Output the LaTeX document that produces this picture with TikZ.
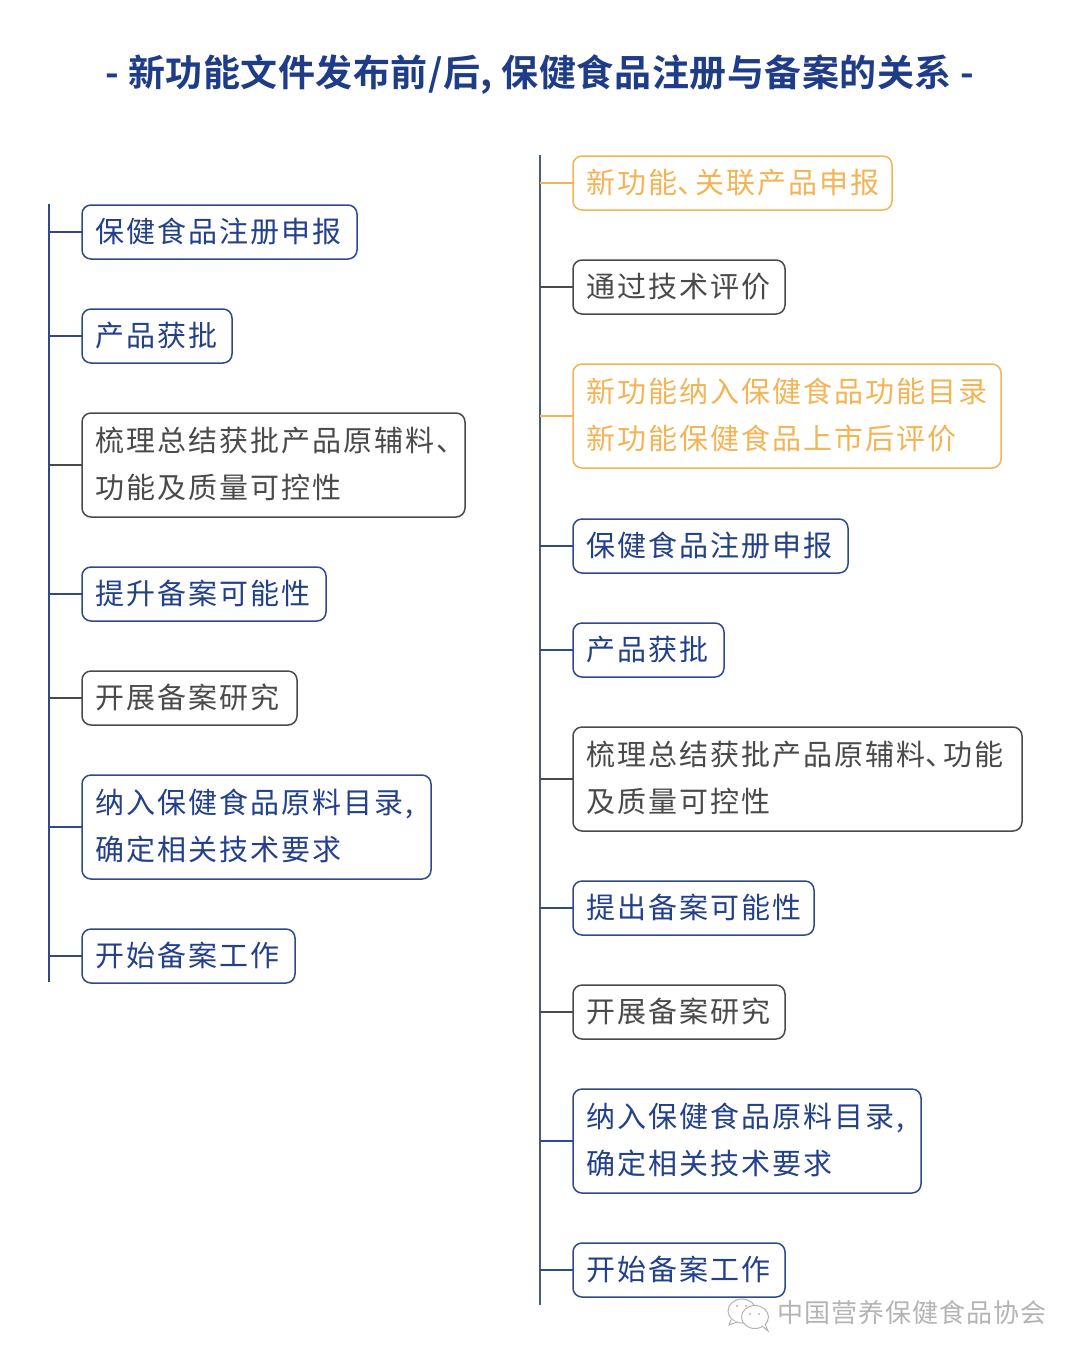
\documentclass[tikz,border=0pt]{standalone}
\usepackage{fontspec}
\newfontfamily\cjk[LetterSpace=7]{Noto Sans CJK SC}
\newfontfamily\cjktitle[LetterSpace=1.5,BoldFont={Noto Sans CJK SC Bold}]{Noto Sans CJK SC}
\newfontfamily\cjkmark[LetterSpace=4]{Noto Sans CJK SC}
\definecolor{navy}{HTML}{2E4A8C}
\definecolor{navytext}{HTML}{23408A}
\definecolor{titlenavy}{HTML}{1F3C88}
\definecolor{slate}{HTML}{4A4A4A}
\definecolor{amber}{HTML}{F3B455}
\definecolor{spinegray}{HTML}{4A5A80}
\definecolor{markgray}{HTML}{B4B4B4}
\tikzset{
  x=1pt,y=-1pt,
  flowbox/.style={draw,line width=1.5pt,rounded corners=9pt,anchor=west,inner xsep=13.5pt,inner ysep=0pt,outer sep=0pt,
    align=left,font=\cjk\fontsize{29}{46.5}\selectfont,fill=white},
  bluebox/.style={flowbox,draw=navy,text=navytext},
  graybox/.style={flowbox,draw=slate,text=slate},
  amberbox/.style={flowbox,draw=amber,text=amber},
  spineleft/.style={line width=1.5pt,draw=navy},
  spineright/.style={line width=1.5pt,draw=spinegray},
  bluelink/.style={line width=1.5pt,draw=navy},
  graylink/.style={line width=1.5pt,draw=slate},
  amberlink/.style={line width=1.5pt,draw=amber},
  bubble/.style={draw=markgray,line width=1pt,fill=white},
}
% line strut and narrow enumeration comma
\newcommand{\ls}{\rule[-6pt]{0pt}{32pt}}
\newcommand{\nc}{\makebox[18pt][l]{、}}
% name, style, left, right, centre y, height, text
\newcommand{\tbox}[7]{\node[#2,text width=#4pt-#3pt-27pt,minimum height=#6pt] (#1) at (#3,#5) {#7};}
\begin{document}
\begin{tikzpicture}
\useasboundingbox (0,0) rectangle (1080,1361);
\fill[white] (0,0) rectangle (1080,1361);

\node[font=\cjktitle\bfseries\fontsize{37}{40}\selectfont,text=titlenavy,inner sep=0pt] (title) at (540,75) {- 新功能文件发布前/后, 保健食品注册与备案的关系 -};

\coordinate (LT) at (49,204);
\coordinate (LB) at (49,982);
\coordinate (RT) at (540,155);
\coordinate (RB) at (540,1305);
\draw[spineleft] (LT) -- (LB);
\draw[spineright] (RT) -- (RB);

\tbox{a1}{bluebox}{82}{357}{232}{54}{\ls 保健食品注册申报}
\tbox{a2}{bluebox}{82}{232}{336}{54}{\ls 产品获批}
\tbox{a3}{graybox}{82}{465}{465}{104}{\ls 梳理总结获批产品原辅料、\\\ls 功能及质量可控性}
\tbox{a4}{bluebox}{82}{326}{594}{54}{\ls 提升备案可能性}
\tbox{a5}{graybox}{82}{297}{698}{54}{\ls 开展备案研究}
\tbox{a6}{bluebox}{82}{431}{827}{104}{\ls 纳入保健食品原料目录,\\\ls 确定相关技术要求}
\tbox{a7}{bluebox}{82}{295}{956}{54}{\ls 开始备案工作}

\tbox{b1}{amberbox}{573}{892}{183}{54}{\ls 新功能\nc 关联产品申报}
\tbox{b2}{graybox}{573}{785}{287}{54}{\ls 通过技术评价}
\tbox{b3}{amberbox}{573}{1001}{416}{104}{\ls 新功能纳入保健食品功能目录\\\ls 新功能保健食品上市后评价}
\tbox{b4}{bluebox}{573}{848}{546}{54}{\ls 保健食品注册申报}
\tbox{b5}{bluebox}{573}{724}{650}{54}{\ls 产品获批}
\tbox{b6}{graybox}{573}{1022}{779}{104}{\ls 梳理总结获批产品原辅料\nc 功能\\\ls 及质量可控性}
\tbox{b7}{bluebox}{573}{814}{908}{54}{\ls 提出备案可能性}
\tbox{b8}{graybox}{573}{785}{1012}{54}{\ls 开展备案研究}
\tbox{b9}{bluebox}{573}{921}{1141}{104}{\ls 纳入保健食品原料目录,\\\ls 确定相关技术要求}
\tbox{b10}{bluebox}{573}{785}{1270}{54}{\ls 开始备案工作}

\foreach \n/\s in {a1/bluelink,a2/bluelink,a3/graylink,a4/bluelink,a5/graylink,a6/bluelink,a7/bluelink}
  \draw[\s] (\n.west) -- (\n.west -| LT);
\foreach \n/\s in {b1/amberlink,b2/graylink,b3/amberlink,b4/bluelink,b5/bluelink,b6/graylink,b7/bluelink,b8/graylink,b9/bluelink,b10/bluelink}
  \draw[\s] (\n.west) -- (\n.west -| RT);

% watermark
\draw[bubble] (742,1311) ellipse [x radius=14,y radius=12];
\draw[bubble] (731,1320) -- (729,1325) -- (737,1322);
\draw[bubble] (755,1317) ellipse [x radius=13.5,y radius=11.5];
\draw[bubble] (762,1326) -- (768,1331) -- (765,1324);
\fill[markgray] (737,1306) circle (1.2) (746,1306) circle (1.2) (750,1314) circle (1.2) (759,1314) circle (1.2);
\node[font=\cjkmark\fontsize{26}{28}\selectfont,text=markgray,inner sep=0pt,anchor=west] (mark) at (777,1313) {中国营养保健食品协会};
\end{tikzpicture}
\end{document}
